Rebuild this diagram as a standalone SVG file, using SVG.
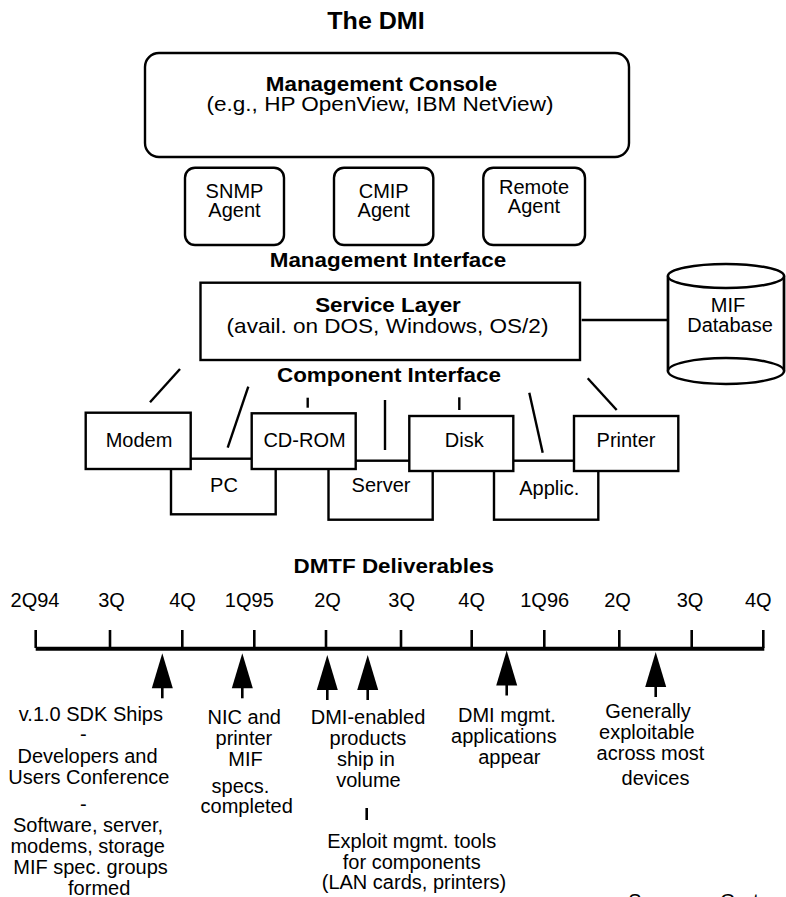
<svg xmlns="http://www.w3.org/2000/svg" width="786" height="897" viewBox="0 0 786 897">
  <style>
    text { font-family: "Liberation Sans", Arial, Helvetica, sans-serif; fill: #000; text-anchor: middle; }
    /* headings use a slightly widened face */
    .title, .head, .sub { transform-box: fill-box; transform-origin: center; }
    .title { font-size: 23px; font-weight: bold; transform: scaleX(1.09); }
    .head { font-size: 21px; font-weight: bold; transform: scaleX(1.067); }
    .sub { font-size: 20.5px; transform: scaleX(1.1); }
    .lbl { font-size: 20px; }
    .box { fill: #fff; stroke: #000; stroke-width: 2.4; }
    .wire { fill: none; stroke: #000; stroke-width: 2.4; }
    .axis { stroke: #000; stroke-width: 4; }
    .tick { stroke: #000; stroke-width: 2.6; }
    .arrow { fill: #000; stroke: none; }
    .stem { stroke: #000; stroke-width: 2.6; }
  </style>
  <defs>
    <!-- milestone marker: filled triangle pointing up at the axis, with a short stem -->
    <g id="milestone">
      <polygon class="arrow" points="0,0 -10.5,35 10.5,35"/>
      <line class="stem" x1="0" y1="34" x2="0" y2="45"/>
    </g>
  </defs>

  <rect width="786" height="897" fill="#fff"/>

  <g id="title">
    <text class="title" x="376" y="29">The DMI</text>
  </g>

  <!-- DMI architecture -->
  <g id="console">
    <rect class="box" x="145" y="53" width="484" height="104" rx="14" ry="14"/>
    <text class="head" x="381.5" y="91">Management Console</text>
    <text class="sub" x="380" y="111.5">(e.g., HP OpenView, IBM NetView)</text>
  </g>

  <g id="snmp-agent">
    <rect class="box" x="185" y="167.7" width="99" height="77.3" rx="10" ry="10"/>
    <text class="lbl" x="234.5"><tspan x="234.5" y="198">SNMP</tspan><tspan x="234.5" y="217.3">Agent</tspan></text>
  </g>
  <g id="cmip-agent">
    <rect class="box" x="334" y="167.7" width="99.3" height="77.3" rx="10" ry="10"/>
    <text class="lbl" x="383.7"><tspan x="383.7" y="198">CMIP</tspan><tspan x="383.7" y="217.3">Agent</tspan></text>
  </g>
  <g id="remote-agent">
    <rect class="box" x="483.3" y="167.7" width="101.7" height="77.3" rx="10" ry="10"/>
    <text class="lbl" x="534"><tspan x="534" y="194">Remote</tspan><tspan x="534" y="213.3">Agent</tspan></text>
  </g>

  <g id="management-interface">
    <text class="head" x="388" y="266.7">Management Interface</text>
  </g>

  <g id="service-layer">
    <rect class="box" x="200.5" y="282.7" width="379.5" height="77.3"/>
    <text class="head" x="388" y="311.7">Service Layer</text>
    <text class="sub" x="387.5" y="333.5">(avail. on DOS, Windows, OS/2)</text>
  </g>

  <g id="mif-database">
    <path class="box" d="M668,276 L668,371 L784,371 L784,276 Z" stroke="none"/>
    <line class="wire" x1="668" y1="276" x2="668" y2="371"/>
    <line class="wire" x1="784" y1="276" x2="784" y2="371"/>
    <ellipse class="box" cx="726" cy="276" rx="58" ry="12"/>
    <ellipse class="box" cx="726" cy="371" rx="58" ry="13"/>
    <text class="lbl"><tspan x="728" y="311.7">MIF</tspan><tspan x="730" y="331.7">Database</tspan></text>
  </g>

  <g id="component-interface">
    <text class="head" x="389" y="382.3">Component Interface</text>
  </g>

  <g id="connectors">
    <line class="wire" x1="581.7" y1="320" x2="668" y2="320"/>
    <line class="wire" x1="180" y1="369" x2="150" y2="402.3"/>
    <line class="wire" x1="248.3" y1="386.7" x2="227.7" y2="447.7"/>
    <line class="wire" x1="307.7" y1="397.7" x2="307.7" y2="407.7"/>
    <line class="wire" x1="385" y1="400" x2="385" y2="450"/>
    <line class="wire" x1="459.3" y1="397.3" x2="459.3" y2="410"/>
    <line class="wire" x1="529.3" y1="392.7" x2="542.7" y2="452.7"/>
    <line class="wire" x1="587.7" y1="378.3" x2="616.7" y2="410"/>
  </g>

  <!-- back row of components, partly hidden by the front row -->
  <g id="pc">
    <rect class="box" x="171" y="458.7" width="104.7" height="55.6"/>
    <text class="lbl" x="224" y="491.7">PC</text>
  </g>
  <g id="server">
    <rect class="box" x="328.5" y="460.7" width="104.2" height="59"/>
    <text class="lbl" x="381" y="491.7">Server</text>
  </g>
  <g id="applic">
    <rect class="box" x="494" y="460.7" width="104.3" height="59"/>
    <text class="lbl" x="549.3" y="495">Applic.</text>
  </g>

  <!-- front row of components -->
  <g id="modem">
    <rect class="box" x="85.7" y="412.7" width="105" height="56.3"/>
    <text class="lbl" x="139" y="447.3">Modem</text>
  </g>
  <g id="cd-rom">
    <rect class="box" x="251.7" y="413.3" width="104" height="55.7"/>
    <text class="lbl" x="304.5" y="447.3">CD-ROM</text>
  </g>
  <g id="disk">
    <rect class="box" x="409.3" y="416" width="104" height="55"/>
    <text class="lbl" x="464.3" y="446.7">Disk</text>
  </g>
  <g id="printer">
    <rect class="box" x="574" y="416" width="104.3" height="55"/>
    <text class="lbl" x="626" y="446.7">Printer</text>
  </g>

  <!-- DMTF deliverables timeline -->
  <g id="timeline-title">
    <text class="head" x="393.7" y="573.3">DMTF Deliverables</text>
  </g>

  <g id="timeline">
    <text class="lbl" x="35" y="606.7">2Q94</text>
    <text class="lbl" x="111.5" y="606.7">3Q</text>
    <text class="lbl" x="182.5" y="606.7">4Q</text>
    <text class="lbl" x="249.3" y="606.7">1Q95</text>
    <text class="lbl" x="327.5" y="606.7">2Q</text>
    <text class="lbl" x="401.7" y="606.7">3Q</text>
    <text class="lbl" x="471.7" y="606.7">4Q</text>
    <text class="lbl" x="544.7" y="606.7">1Q96</text>
    <text class="lbl" x="617.5" y="606.7">2Q</text>
    <text class="lbl" x="690" y="606.7">3Q</text>
    <text class="lbl" x="758.3" y="606.7">4Q</text>

    <line class="axis" x1="35.7" y1="648.7" x2="764.3" y2="648.7"/>
    <line class="tick" x1="35.7" y1="630" x2="35.7" y2="648"/>
    <line class="tick" x1="110" y1="630" x2="110" y2="648"/>
    <line class="tick" x1="182.3" y1="630" x2="182.3" y2="648"/>
    <line class="tick" x1="254.3" y1="630" x2="254.3" y2="648"/>
    <line class="tick" x1="326" y1="630" x2="326" y2="648"/>
    <line class="tick" x1="401" y1="630" x2="401" y2="648"/>
    <line class="tick" x1="471.7" y1="630" x2="471.7" y2="648"/>
    <line class="tick" x1="544.3" y1="630" x2="544.3" y2="648"/>
    <line class="tick" x1="619.3" y1="630" x2="619.3" y2="648"/>
    <line class="tick" x1="691.7" y1="630" x2="691.7" y2="648"/>
    <line class="tick" x1="763.3" y1="630" x2="763.3" y2="648"/>

    <use href="#milestone" x="162.3" y="653.3"/>
    <use href="#milestone" x="242.3" y="653.3"/>
    <use href="#milestone" x="327.3" y="655"/>
    <use href="#milestone" x="367.7" y="655"/>
    <use href="#milestone" x="506.7" y="650.5"/>
    <use href="#milestone" x="655.7" y="652"/>
  </g>

  <g id="milestone-sdk">
    <text class="lbl">
      <tspan x="93.7" y="720.7">v.1.0 SDK Ships</tspan>
      <tspan x="86" y="741">-</tspan>
      <tspan x="90.3" y="763">Developers and</tspan>
      <tspan x="91.7" y="784">Users Conference</tspan>
      <tspan x="86" y="811">-</tspan>
      <tspan x="90.8" y="832">Software, server,</tspan>
      <tspan x="90.5" y="853">modems, storage</tspan>
      <tspan x="93.3" y="874">MIF spec. groups</tspan>
      <tspan x="99.2" y="894.5">formed</tspan>
    </text>
  </g>

  <g id="milestone-nic">
    <text class="lbl">
      <tspan x="247" y="724">NIC and</tspan>
      <tspan x="246.7" y="744.5">printer</tspan>
      <tspan x="248.3" y="766">MIF</tspan>
      <tspan x="243.3" y="793">specs.</tspan>
      <tspan x="246.7" y="813">completed</tspan>
    </text>
  </g>

  <g id="milestone-products">
    <text class="lbl">
      <tspan x="370.8" y="723.5">DMI-enabled</tspan>
      <tspan x="370.7" y="744.6">products</tspan>
      <tspan x="368.7" y="766">ship in</tspan>
      <tspan x="368.5" y="787">volume</tspan>
    </text>
    <line class="stem" x1="366.7" y1="808" x2="366.7" y2="820"/>
    <text class="lbl">
      <tspan x="414.5" y="848">Exploit mgmt. tools</tspan>
      <tspan x="414.5" y="868.5">for components</tspan>
      <tspan x="414" y="889">(LAN cards, printers)</tspan>
    </text>
  </g>

  <g id="milestone-apps">
    <text class="lbl">
      <tspan x="509.7" y="722">DMI mgmt.</tspan>
      <tspan x="506.7" y="743">applications</tspan>
      <tspan x="509.3" y="764">appear</tspan>
    </text>
  </g>

  <g id="milestone-general">
    <text class="lbl">
      <tspan x="650.8" y="718">Generally</tspan>
      <tspan x="649.7" y="739">exploitable</tspan>
      <tspan x="653.3" y="760">across most</tspan>
      <tspan x="655.5" y="784.5">devices</tspan>
    </text>
  </g>

  <g id="source">
    <text class="lbl" style="text-anchor:start"><tspan x="628.3" y="908">Source:</tspan><tspan x="720" y="908">Gartner</tspan></text>
  </g>
</svg>
